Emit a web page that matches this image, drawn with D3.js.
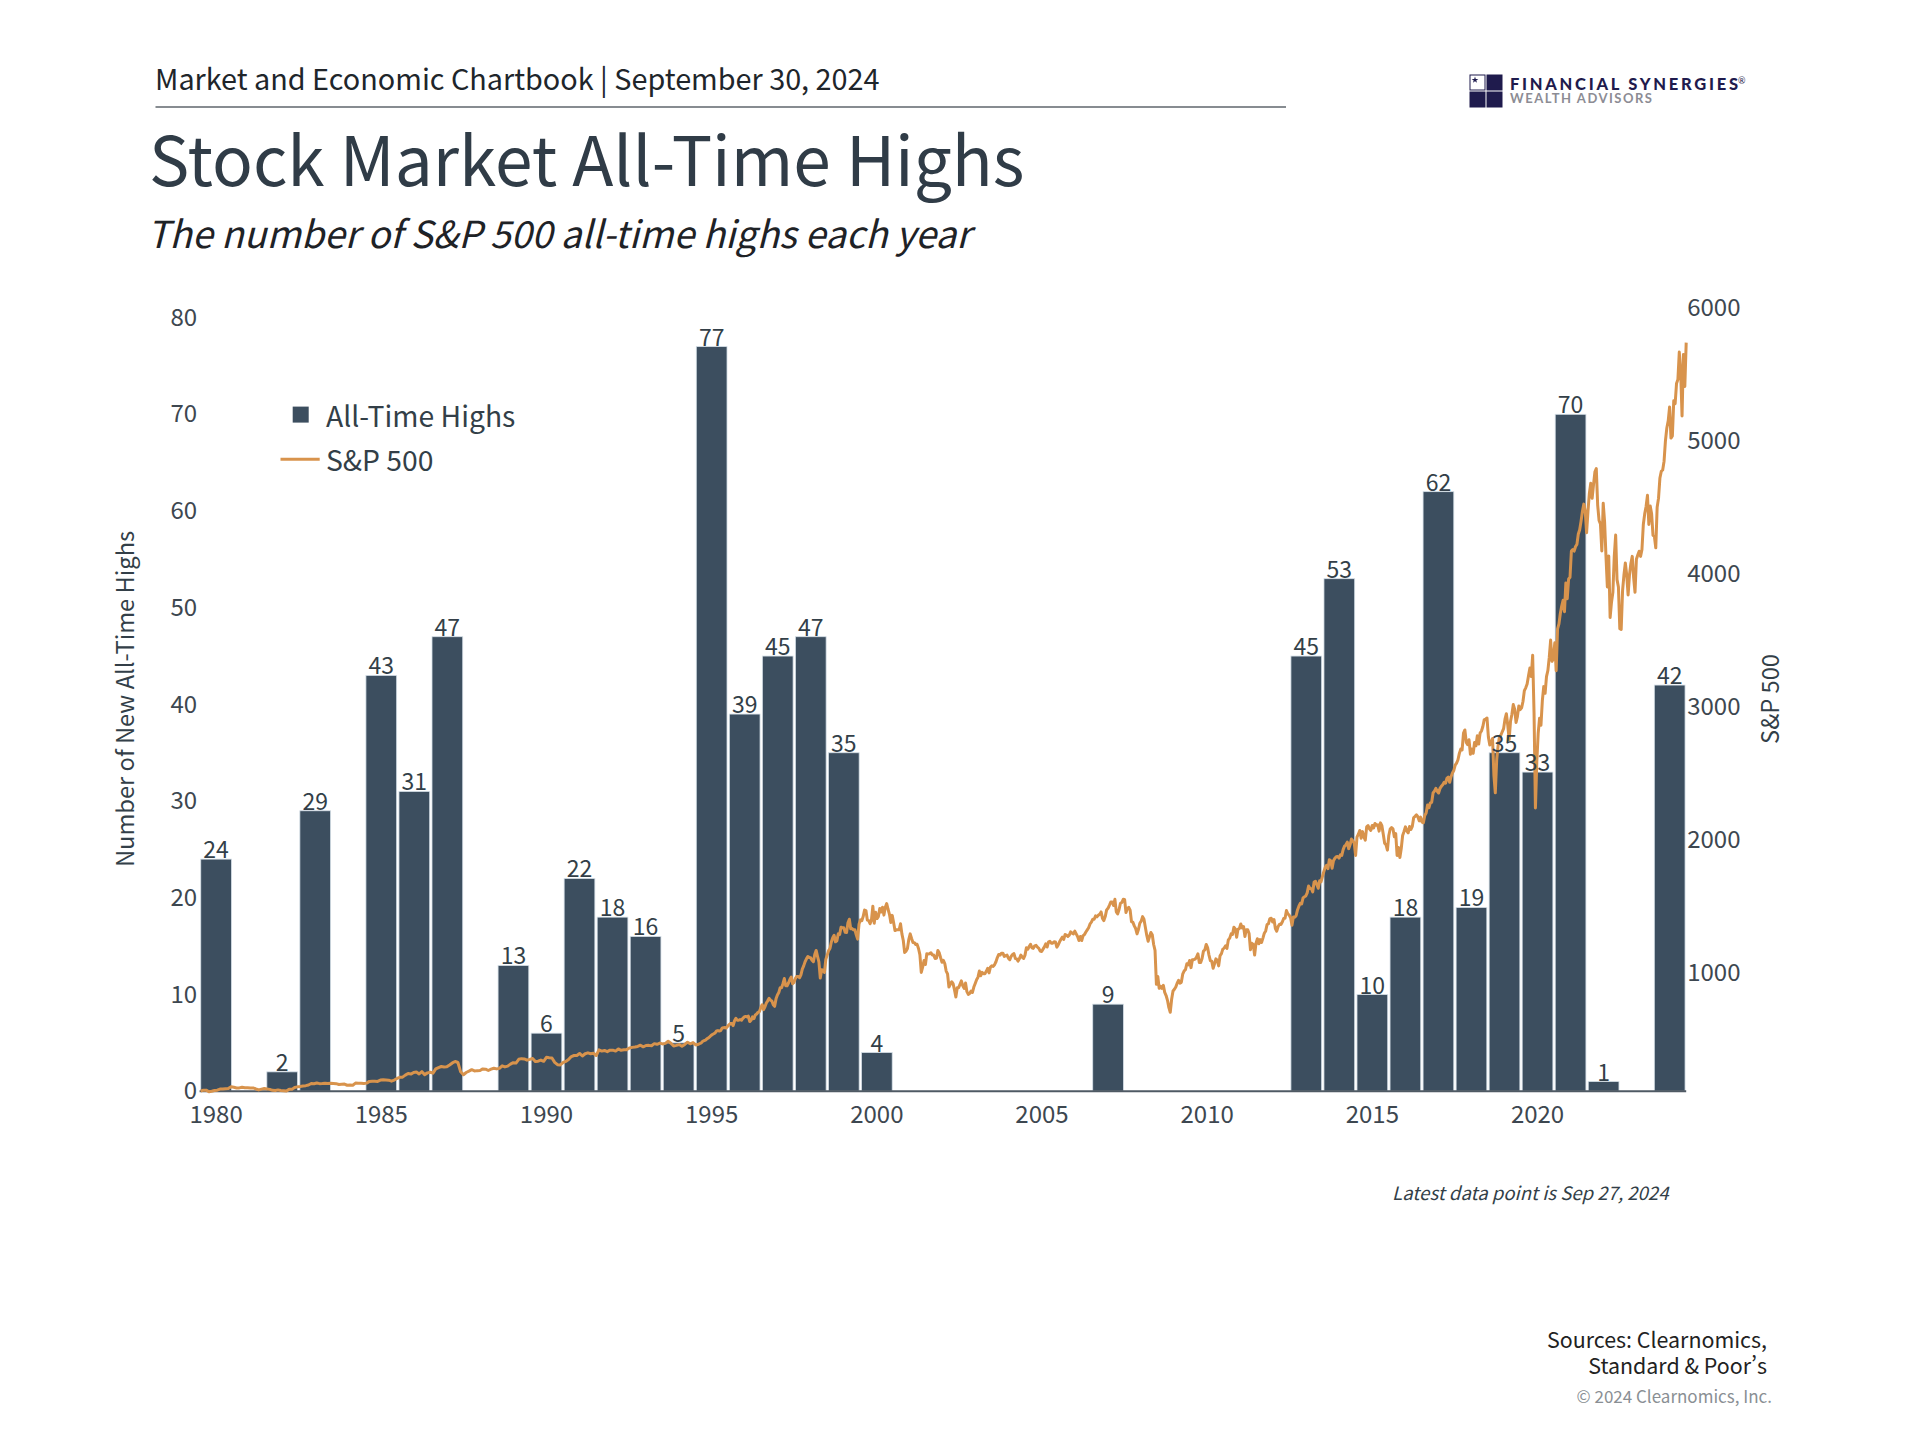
<!DOCTYPE html>
<html>
<head>
<meta charset="utf-8">
<title>Stock Market All-Time Highs</title>
<script src="https://cdn.jsdelivr.net/npm/d3@7"></script>
<style>
  html, body { margin: 0; padding: 0; background: #fff; }
  svg { display: block; }
  text { font-family: "Noto Sans CJK SC", "Noto Sans", sans-serif; fill: #333f48; }
  .axis path, .axis line { display: none; }
  .axis text { font-family: "Noto Sans CJK SC", "Noto Sans", sans-serif; font-size: 24px; fill: #3d4750; }
</style>
</head>
<body>
<svg id="chart"></svg>
<script>
// data
var years = d3.range(1980, 2025);
var highs = [24, 0, 2, 29, 0, 43, 31, 47, 0, 13, 6, 22, 18, 16, 5,
  77, 39, 45, 47, 35, 4, 0, 0, 0, 0, 0, 0, 9, 0, 0,
  0, 0, 0, 45, 53, 10, 18, 62, 19, 35, 33, 70, 1, 0, 42];
var yearTicks = [1980, 1985, 1990, 1995, 2000, 2005, 2010, 2015, 2020];
var highsTicks = [0, 10, 20, 30, 40, 50, 60, 70, 80];
var spTicks = [1000, 2000, 3000, 4000, 5000, 6000];

// S&P 500, one value a month from Jan 1980 to Dec 1994
var spMonthly = [107,
  114,114,102,106,111,114,122,122,125,127,140,136,
  130,131,136,133,133,131,131,123,116,122,126,123,
  120,113,112,116,112,110,107,120,120,134,139,141,
  145,148,153,164,162,168,163,164,166,164,166,165,
  163,157,159,160,151,153,151,167,166,166,164,167,
  180,181,181,180,190,192,191,189,182,190,202,211,
  212,227,239,235,247,251,236,253,231,244,249,242,
  274,284,292,288,290,304,319,330,322,252,230,247,
  257,268,259,261,262,274,272,262,272,279,274,278,
  297,289,295,310,321,318,346,351,349,340,346,353,
  329,332,340,331,361,358,356,323,306,304,322,330,
  344,367,375,375,390,371,388,395,388,392,375,417,
  408,413,404,415,415,408,424,414,418,419,431,436,
  439,443,452,440,450,451,448,464,459,468,462,466,
  482,467,446,451,457,444,458,475,463,472,454,459];

// S&P 500, two values a month from Jan 1995 to Sep 2024
var spHalfMonthly = [
  465,470,482,487,491,500,506,515,525,533,539,545,559,562,559,562,580,584,585,582,594,605,616,616,
  600,636,655,640,640,645,640,654,665,669,665,671,630,640,665,652,680,687,700,705,735,757,720,741,
  770,786,805,791,785,757,745,801,830,848,885,885,915,954,900,899,920,947,965,915,925,955,970,970,
  960,981,1025,1049,1080,1102,1120,1112,1110,1091,1080,1134,1165,1121,1080,957,1020,1017,1000,1098,1130,1164,1180,1229,
  1260,1279,1230,1238,1290,1286,1340,1335,1335,1302,1300,1373,1400,1329,1330,1320,1320,1283,1250,1363,1395,1389,1420,1469,
  1465,1394,1390,1366,1395,1498,1370,1452,1405,1420,1480,1454,1490,1431,1490,1518,1475,1437,1375,1429,1375,1315,1320,1320,
  1320,1366,1290,1240,1150,1160,1180,1249,1290,1255,1225,1224,1210,1211,1180,1134,1000,1040,1090,1059,1140,1139,1140,1148,
  1130,1130,1105,1106,1165,1147,1110,1076,1090,1067,1010,989,890,911,930,916,870,815,885,885,910,936,900,880,
  920,855,835,841,860,849,890,917,945,964,1010,975,1000,990,990,1008,1030,996,1040,1050,1045,1058,1080,1112,
  1135,1131,1145,1145,1120,1126,1130,1107,1095,1121,1135,1141,1105,1102,1085,1104,1130,1115,1105,1130,1185,1174,1195,1212,
  1185,1181,1200,1204,1190,1181,1160,1157,1175,1192,1215,1191,1230,1234,1220,1220,1230,1229,1190,1207,1230,1249,1265,1248,
  1285,1280,1270,1280,1305,1295,1290,1311,1290,1270,1240,1270,1240,1277,1285,1304,1320,1336,1365,1378,1400,1400,1425,1418,
  1430,1438,1455,1406,1390,1420,1470,1482,1505,1530,1530,1503,1550,1455,1440,1473,1520,1526,1550,1549,1450,1481,1490,1468,
  1380,1378,1350,1330,1290,1323,1370,1386,1420,1400,1340,1280,1235,1267,1300,1283,1210,1166,910,969,880,896,880,903,
  850,826,790,735,700,798,860,873,890,919,940,919,925,987,1010,1021,1065,1057,1090,1036,1095,1096,1100,1115,
  1140,1074,1075,1104,1160,1169,1210,1187,1130,1089,1085,1031,1065,1102,1090,1049,1125,1141,1175,1183,1200,1181,1245,1258,
  1290,1286,1340,1327,1265,1326,1330,1364,1335,1345,1270,1321,1320,1292,1170,1219,1210,1131,1220,1253,1215,1247,1225,1258,
  1295,1312,1360,1366,1405,1408,1380,1398,1330,1310,1345,1362,1360,1379,1405,1407,1465,1441,1430,1412,1355,1416,1415,1426,
  1470,1498,1520,1515,1560,1569,1575,1598,1650,1631,1630,1606,1680,1686,1660,1633,1690,1682,1720,1757,1790,1806,1780,1848,
  1840,1783,1840,1859,1870,1872,1860,1884,1880,1924,1950,1960,1980,1931,1960,2003,1990,1972,1880,2018,2040,2068,2010,2059,
  2020,1995,2095,2105,2080,2068,2105,2086,2120,2107,2110,2063,2125,2104,2040,1972,1960,1920,2030,2079,2090,2080,2020,2044,
  1880,1940,1865,1932,2030,2060,2095,2065,2050,2097,2075,2099,2165,2174,2185,2171,2140,2168,2130,2126,2180,2199,2260,2239,
  2275,2279,2350,2364,2385,2363,2350,2384,2400,2412,2430,2423,2460,2470,2430,2472,2500,2519,2560,2575,2600,2648,2680,2674,
  2800,2824,2730,2714,2750,2641,2680,2648,2730,2705,2780,2718,2800,2816,2850,2902,2905,2914,2770,2711,2730,2760,2480,2351,
  2600,2704,2775,2784,2810,2834,2905,2946,2860,2752,2890,2942,3015,2980,2880,2926,3005,2977,2990,3038,3120,3141,3170,3231,
  3290,3226,3386,2954,2237,2585,2800,2912,2860,3044,3150,3100,3225,3271,3370,3500,3340,3363,3480,3270,3585,3622,3700,3756,
  3800,3714,3930,3811,3960,3973,4170,4181,4170,4204,4220,4298,4330,4395,4470,4523,4470,4308,4470,4605,4680,4567,4670,4766,
  4790,4516,4400,4374,4170,4530,4390,4132,3900,4132,3670,3785,3860,4130,4290,3955,3900,3586,3580,3872,3990,4080,3990,3840,
  3990,4076,4130,3970,3860,4109,4140,4169,4130,4180,4370,4450,4505,4589,4370,4508,4450,4288,4280,4194,4500,4568,4720,4770,
  4780,4846,5000,5096,5150,5254,5020,5036,5300,5278,5430,5460,5667,5522,5186,5648,5408,5738];

document.addEventListener('DOMContentLoaded', () => {
  var svg = d3.select('#chart')
    .attr('width', 1920)
    .attr('height', 1440);

  var plot = { left: 199.6, right: 1686.2, top: 317.6, bottom: 1091.2 };

  var x = d3.scaleBand()
    .domain(years)
    .range([plot.left, plot.right])
    .paddingInner(0.07)
    .paddingOuter(0.035);

  // the line runs over the full width, first to last data point
  var xLine = d3.scaleLinear()
    .domain([1980, 2024.75])
    .range([plot.left + 1, plot.right]);

  var y = d3.scaleLinear()
    .domain([0, 80])
    .range([plot.bottom, plot.top]);

  var ySp = d3.scaleLinear()
    .domain([1000, 6000])
    .range([972.4, 307.8]);

  // header
  svg.append('text')
    .attr('x', 155)
    .attr('y', 89.5)
    .attr('font-size', 28.8)
    .style('fill', '#20252a')
    .text('Market and Economic Chartbook | September 30, 2024');

  svg.append('line')
    .attr('x1', 155.5)
    .attr('x2', 1286)
    .attr('y1', 107)
    .attr('y2', 107)
    .attr('stroke', '#5f666c')
    .attr('stroke-width', 1.5);

  svg.append('text')
    .attr('x', 149)
    .attr('y', 186)
    .attr('font-size', 67.6)
    .style('fill', '#303c47')
    .text('Stock Market All-Time Highs');

  svg.append('text')
    .attr('x', 147)
    .attr('y', 248)
    .attr('font-size', 37.3)
    .attr('font-style', 'italic')
    .style('fill', '#1e2226')
    .text('The number of S&P 500 all-time highs each year');

  // logo
  var logo = svg.append('g').attr('transform', 'translate(1470, 75)');
  logo.selectAll('rect')
    .data([[0, 0], [17, 0], [0, 17], [17, 17]])
    .enter().append('rect')
    .attr('x', d => d[0])
    .attr('y', d => d[1])
    .attr('width', 15)
    .attr('height', 15)
    .attr('fill', (d, i) => i == 0 ? '#fff' : '#1f1b4d')
    .attr('stroke', '#1f1b4d')
    .attr('stroke-width', 1);
  logo.append('path')
    .attr('d', d3.symbol(d3.symbolStar, 14))
    .attr('transform', 'translate(5, 5)')
    .attr('fill', '#1f1b4d');
  logo.append('text')
    .attr('x', 40)
    .attr('y', 15)
    .attr('font-size', 16.5)
    .attr('font-weight', 900)
    .attr('textLength', 228)
    .attr('lengthAdjust', 'spacing')
    .style('font-family', 'Lato')
    .style('fill', '#1f1b4d')
    .text('FINANCIAL SYNERGIES');
  logo.append('text')
    .attr('x', 268)
    .attr('y', 9)
    .attr('font-size', 9)
    .style('font-family', 'Lato')
    .style('fill', '#1f1b4d')
    .text('®');
  logo.append('text')
    .attr('x', 40)
    .attr('y', 28)
    .attr('font-size', 13)
    .attr('font-weight', 700)
    .attr('textLength', 142)
    .attr('lengthAdjust', 'spacing')
    .style('font-family', 'Lato')
    .style('fill', '#8c8c94')
    .text('WEALTH ADVISORS');

  // bars
  svg.selectAll('.bar')
    .data(years.filter((d, i) => highs[i] > 0))
    .enter().append('rect')
    .attr('class', 'bar')
    .attr('x', d => x(d))
    .attr('width', x.bandwidth())
    .attr('y', d => y(highs[d - 1980]))
    .attr('height', d => plot.bottom - y(highs[d - 1980]))
    .attr('fill', '#3c4e5f')
    .attr('stroke', '#d5dfe7')
    .attr('stroke-width', 0.8);

  // baseline
  svg.append('line')
    .attr('x1', plot.left)
    .attr('x2', plot.right)
    .attr('y1', plot.bottom)
    .attr('y2', plot.bottom)
    .attr('stroke', '#4f5a64')
    .attr('stroke-width', 2);

  // S&P 500 line
  var spPoints = spMonthly.map((v, i) => [1980 + i / 12, v])
    .concat(spHalfMonthly.map((v, i) => [1995 + (i + 1) / 24, v]));

  var line = d3.line()
    .x(d => xLine(d[0]))
    .y(d => ySp(d[1]));

  svg.append('path')
    .datum(spPoints)
    .attr('d', line)
    .attr('fill', 'none')
    .attr('stroke', '#d8934c')
    .attr('stroke-width', 3)
    .attr('stroke-linejoin', 'round');

  // bar labels
  svg.selectAll('.bar-label')
    .data(years.filter((d, i) => highs[i] > 0))
    .enter().append('text')
    .attr('class', 'bar-label')
    .attr('x', d => x(d) + x.bandwidth() / 2)
    .attr('y', d => y(highs[d - 1980]) - 1)
    .attr('text-anchor', 'middle')
    .attr('font-size', 23)
    .text(d => highs[d - 1980]);

  // axes
  svg.append('g')
    .attr('class', 'axis')
    .attr('transform', `translate(0, ${ plot.bottom })`)
    .call(d3.axisBottom(x).tickValues(yearTicks).tickSize(0).tickPadding(15));

  svg.append('g')
    .attr('class', 'axis')
    .attr('transform', `translate(${ plot.left }, 0)`)
    .call(d3.axisLeft(y).tickValues(highsTicks).tickSize(0).tickPadding(2.5));

  svg.append('g')
    .attr('class', 'axis')
    .attr('transform', `translate(${ plot.right }, 0)`)
    .call(d3.axisRight(ySp).tickValues(spTicks).tickFormat(d3.format('d')).tickSize(0).tickPadding(1));

  // axis titles
  svg.append('text')
    .attr('transform', 'translate(134, 699) rotate(-90)')
    .attr('text-anchor', 'middle')
    .attr('font-size', 23.7)
    .text('Number of New All-Time Highs');

  svg.append('text')
    .attr('transform', 'translate(1779, 699) rotate(-90)')
    .attr('text-anchor', 'middle')
    .attr('font-size', 23.7)
    .text('S&P 500');

  // legend
  svg.append('rect')
    .attr('x', 292.7)
    .attr('y', 406.6)
    .attr('width', 16)
    .attr('height', 16)
    .attr('fill', '#3c4e5f');
  svg.append('text')
    .attr('x', 326)
    .attr('y', 426.5)
    .attr('font-size', 28.3)
    .text('All-Time Highs');
  svg.append('line')
    .attr('x1', 280.5)
    .attr('x2', 319.7)
    .attr('y1', 459.3)
    .attr('y2', 459.3)
    .attr('stroke', '#d8934c')
    .attr('stroke-width', 3);
  svg.append('text')
    .attr('x', 326)
    .attr('y', 471)
    .attr('font-size', 28.3)
    .text('S&P 500');

  // notes
  svg.append('text')
    .attr('x', 1668.5)
    .attr('y', 1200.4)
    .attr('text-anchor', 'end')
    .attr('font-size', 18.6)
    .attr('font-style', 'italic')
    .text('Latest data point is Sep 27, 2024');

  svg.append('text')
    .attr('x', 1767)
    .attr('y', 1348.4)
    .attr('text-anchor', 'end')
    .attr('font-size', 21.4)
    .style('fill', '#222')
    .text('Sources: Clearnomics,');

  // the CJK font sets the apostrophe full width unless told otherwise
  svg.append('text')
    .attr('x', 1767)
    .attr('y', 1374)
    .attr('text-anchor', 'end')
    .attr('font-size', 21.4)
    .style('fill', '#222')
    .style('font-feature-settings', '"pwid"')
    .text('Standard & Poor’s');

  svg.append('text')
    .attr('x', 1772)
    .attr('y', 1402.5)
    .attr('text-anchor', 'end')
    .attr('font-size', 17)
    .style('fill', '#8a8f94')
    .text('© 2024 Clearnomics, Inc.');
});
</script>
</body>
</html>
